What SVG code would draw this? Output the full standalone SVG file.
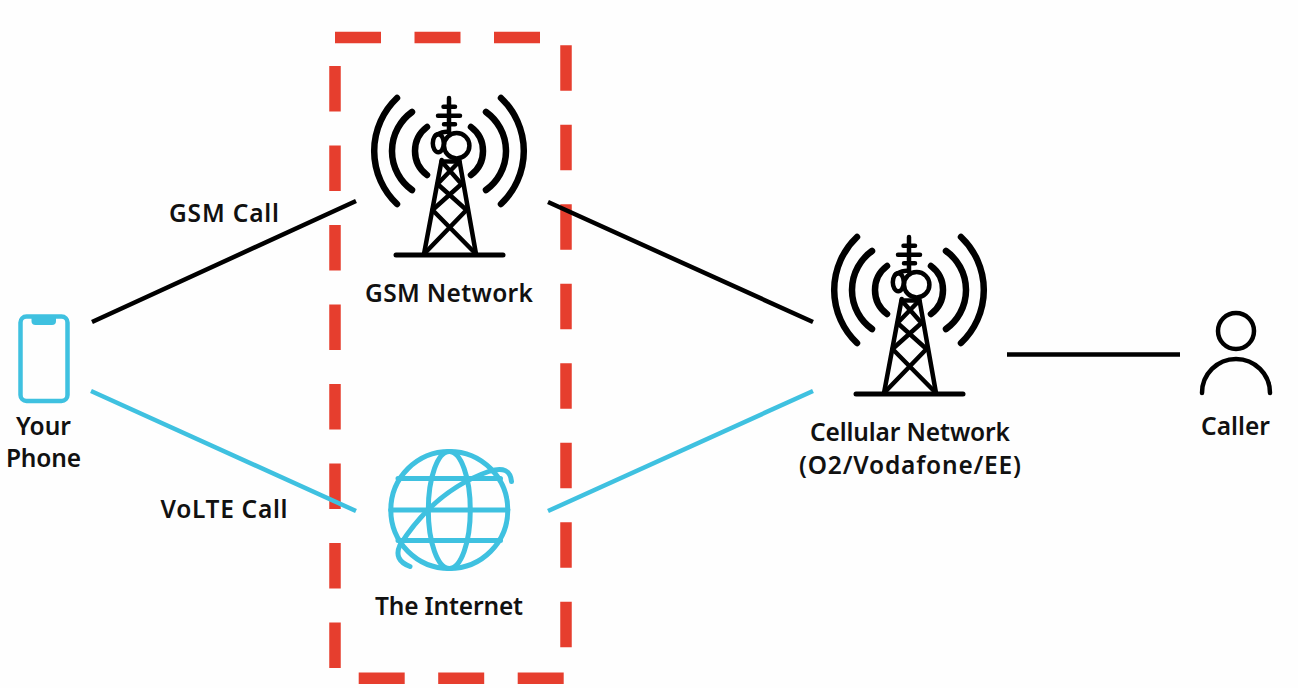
<svg xmlns="http://www.w3.org/2000/svg" width="1298" height="688" viewBox="0 0 1298 688">
<style>
.t{font-family:"Noto Sans","Open Sans",sans-serif;font-weight:600;font-size:24.500px;fill:#111;text-anchor:middle}
.k{fill:none;stroke:#000;stroke-linecap:round;stroke-linejoin:round}
.b{fill:none;stroke:#3fc1e0;stroke-linecap:round;stroke-linejoin:round}
.d{stroke:#e63e2e;stroke-width:11.500;fill:none;stroke-dasharray:46 33.500}
.v{stroke:#e63e2e;stroke-width:11.500;fill:none;stroke-dasharray:45.500 34}
.c{stroke-width:4.500;stroke-linecap:butt}
</style>
<defs>
<g id="tower">
<g class="k" stroke-width="6.500">
<path d="M397 98A73 73 0 0 0 397 204M501 98A73 73 0 0 1 501 204"/>
<path d="M412 112A48 48 0 0 0 412 190M486 112A48 48 0 0 1 486 190"/>
<path d="M427 127A30 30 0 0 0 427 175M471 127A30 30 0 0 1 471 175"/>
</g>
<g class="k" stroke-width="4.500">
<path d="M449 98V132M443.500 106.700H455M438 115.700H460M444 124.300H455"/>
<circle cx="456.700" cy="145.700" r="12.700"/>
<ellipse cx="438.300" cy="143.300" rx="5.500" ry="9"/>
<path d="M436 135Q444 131 449 132"/>
<path d="M441.700 160L424 254M459.300 160L476 254M441.700 161.500H459.300"/>
<path d="M441.700 161.500L461.500 184M459.300 161.500L437.500 184M437.500 184L466.500 210M461.500 184L432.500 210M432.500 210L476 254M466.500 210L424 254"/>
<path d="M396 255H503" stroke-width="5"/>
</g>
</g>
</defs>
<rect width="1298" height="688" fill="#fefefe"/>
<g id="boundary">
<path class="d" d="M335 37.500H541"/>
<path class="d" d="M358.700 678.200H564"/>
<path class="v" d="M335 66V668"/>
<path class="v" d="M566 45.300V648"/>
</g>
<g id="connectors">
<path class="k c" d="M92 322L356 201M548 202L813 322M1007 354.500H1180"/>
<path class="b c" d="M91 391L356 511M548 511L813 391"/>
</g>
<g id="phone">
<rect x="20.500" y="316.500" width="47" height="84.500" rx="6" fill="none" stroke="#3fc1e0" stroke-width="4.500"/>
<path d="M31.500 316H56V321Q56 325 52 325H35.500Q31.500 325 31.500 321Z" fill="#3fc1e0"/>
<text class="t" x="43.500" y="435" textLength="55">Your</text>
<text class="t" x="43.500" y="467" textLength="75">Phone</text>
</g>
<g id="gsm">
<use href="#tower"/>
<text class="t" x="449" y="302" textLength="168">GSM Network</text>
</g>
<g id="internet">
<g class="b" stroke-width="5">
<circle cx="449.300" cy="510" r="58.500"/>
<ellipse cx="449.300" cy="510" rx="21" ry="58.500"/>
<path d="M390.800 510H507.800M398 478.500H500.500M398 540.500H500.500"/>
<path d="M400 545Q393 560 410 566.500M400 545Q435 490 490 471Q510 465 511.500 481.500"/>
</g>
<text class="t" x="449" y="615" textLength="148">The Internet</text>
</g>
<g id="cellular">
<use href="#tower" x="460" y="139"/>
<text class="t" x="910" y="441" textLength="200">Cellular Network</text>
<text class="t" x="910" y="474" textLength="222">(O2/Vodafone/EE)</text>
</g>
<g id="caller">
<circle cx="1236" cy="331" r="18" fill="none" stroke="#000" stroke-width="4.500"/>
<path class="k" stroke-width="4.500" d="M1202 393A34 34 0 0 1 1270 393"/>
<text class="t" x="1235.500" y="435" textLength="69">Caller</text>
</g>
<g id="labels">
<text class="t" x="224" y="222" textLength="110">GSM Call</text>
<text class="t" x="224" y="518" textLength="127">VoLTE Call</text>
</g>
</svg>
